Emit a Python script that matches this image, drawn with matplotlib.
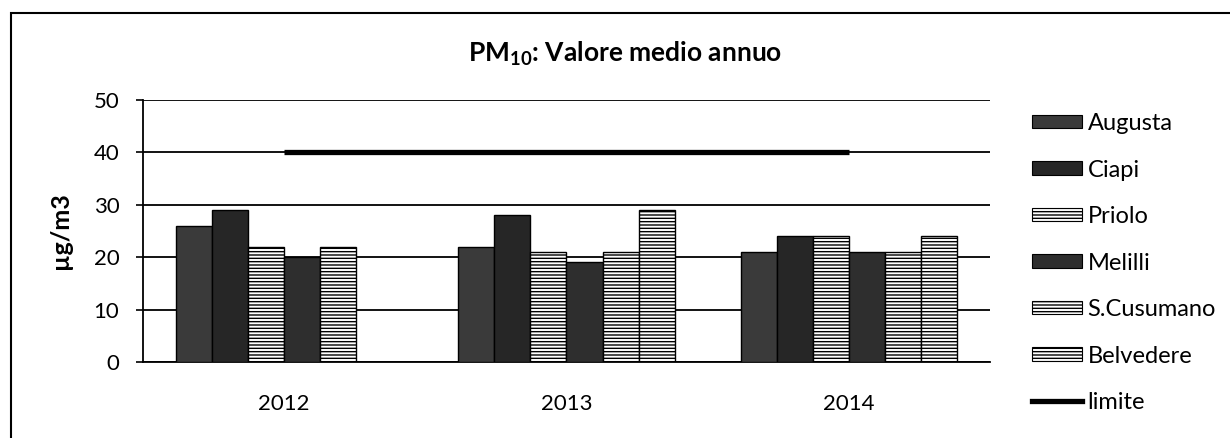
import numpy as np
import matplotlib
matplotlib.use("Agg")
import matplotlib.pyplot as plt
from matplotlib.patches import Rectangle, Patch
from matplotlib.lines import Line2D

plt.rcParams['font.family'] = ['Lato', 'DejaVu Sans']
plt.rcParams['mathtext.fontset'] = 'custom'
plt.rcParams['mathtext.rm'] = 'Lato'
plt.rcParams['mathtext.bf'] = 'Lato:bold'
plt.rcParams['hatch.linewidth'] = 1.0

years = ['2012', '2013', '2014']
stations = ['Augusta', 'Ciapi', 'Priolo', 'Melilli', 'S.Cusumano', 'Belvedere']
augusta = [26, 22, 21]
ciapi = [29, 28, 24]
priolo = [22, 21, 24]
melilli = [20, 19, 21]
scusumano = [22, 21, 21]
belvedere = [np.nan, 29, 24]
limite = [40, 40, 40]
series = [augusta, ciapi, priolo, melilli, scusumano, belvedere]

faces = ['#3a3a3a', '#262626', 'white', '#2e2e2e', 'white', 'white']
hatches = [None, None, '-----', None, '-----', '-----']

W, H = 1230, 438
fig = plt.figure(figsize=(W / 100, H / 100), dpi=100)
ax = fig.add_axes([143 / W, 1 - 362 / H, (990 - 143) / W, (362 - 100) / H])

x = np.arange(len(years))
n = len(series)
group = 0.766
bw = group / n
for j, (vals, fc, ht) in enumerate(zip(series, faces, hatches)):
    pos = x - group / 2 + (j + 0.5) * bw
    ax.bar(pos, vals, width=bw, facecolor=fc, edgecolor='black', hatch=ht,
           linewidth=1.0, zorder=3, label=stations[j])

ax.plot(x, limite, color='black', linewidth=3.8, solid_capstyle='butt', zorder=4, label='limite')

ax.set_xlim(-0.5, 2.5)
ax.set_ylim(0, 50)
ax.set_yticks([0, 10, 20, 30, 40, 50])
ax.set_xticks(x)
ax.set_xticklabels(years)
ax.tick_params(axis='y', direction='out', length=5, width=1.2, pad=12, labelsize=16)
ax.tick_params(axis='x', length=0, pad=23, labelsize=16)
ax.yaxis.grid(True, color='black', linewidth=1.3, zorder=0)
ax.set_axisbelow(True)
for s in ['top', 'right']:
    ax.spines[s].set_visible(False)
ax.spines['left'].set_linewidth(1.3)
ax.spines['bottom'].set_linewidth(1.3)

fig.text(60 / W, 1 - 231 / H, 'µg/m3', rotation=90, ha='center', va='center',
         fontsize=18, fontweight='bold')
fig.text(625 / W, 1 - 62 / H, r'$\mathbf{PM_{10}}$: Valore medio annuo', ha='center',
         va='baseline', fontsize=19, fontweight='bold')

handles = []
for j in range(n):
    handles.append(Patch(facecolor=faces[j], edgecolor='black', hatch=hatches[j], linewidth=0.8))
handles.append(Line2D([0], [0], color='black', linewidth=3.8))
fig.legend(handles, stations + ['limite'], loc='upper left',
           bbox_to_anchor=(1032 / W, 1 - 113 / H), frameon=False, fontsize=17,
           borderpad=0, borderaxespad=0, handlelength=2.1, handleheight=0.5,
           handletextpad=0.25, labelspacing=1.08)

fig.add_artist(Rectangle((11 / W, -0.05), 1.1, 1 - 13 / H + 0.05, transform=fig.transFigure,
                         fill=False, edgecolor='black', linewidth=1.5))

fig.savefig('out.png', dpi=100)
